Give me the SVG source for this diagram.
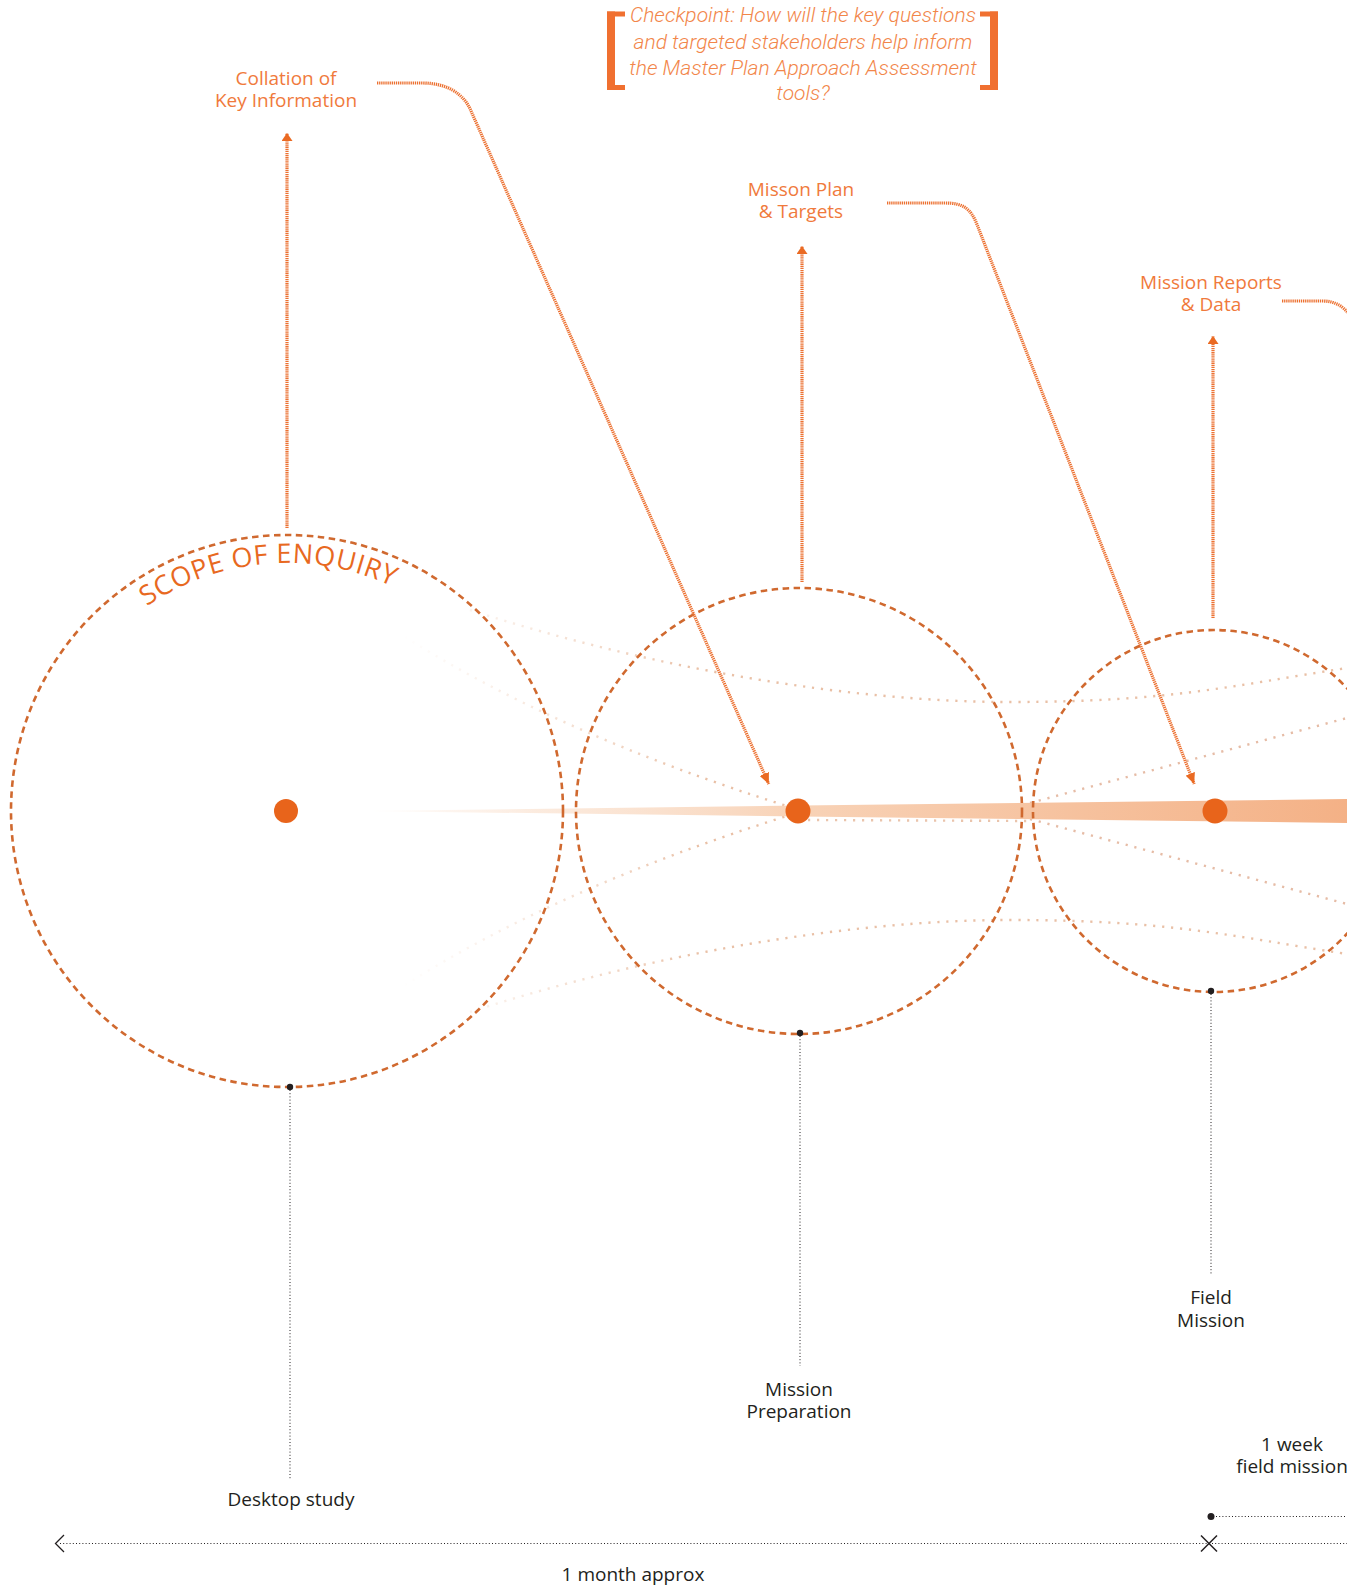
<svg xmlns="http://www.w3.org/2000/svg" width="1347" height="1589" viewBox="0 0 1347 1589">
  <style>
    .ring { fill: none; stroke: #D0692F; stroke-width: 2.6; stroke-dasharray: 6.5 4.5; }
    .hub { fill: #E8641B; }
    .olabel { font-family: "Open Sans", "Noto Sans", sans-serif; font-size: 19px; fill: #F07A3C; text-anchor: middle; }
    .blabel { font-family: "Open Sans", "Noto Sans", sans-serif; font-size: 19px; fill: #231F20; text-anchor: middle; }
    .check { font-family: Roboto, "Noto Sans", sans-serif; font-style: italic; font-weight: 300; font-size: 21px; fill: #F2864A; text-anchor: middle; }
    .hatch { fill: none; stroke: #EC7030; stroke-width: 3.2; stroke-dasharray: 1.3 0.8; }
    .faint { fill: none; stroke-width: 2.4; stroke-dasharray: 2.2 6.8; }
    .kdot { fill: none; stroke: #231F20; stroke-width: 1; stroke-dasharray: 1 2.2; }
    .bracket { fill: #F07030; }
  </style>
  <defs>
    <linearGradient id="bandGrad" gradientUnits="userSpaceOnUse" x1="360" y1="0" x2="1347" y2="0">
      <stop offset="0" stop-color="#FBE3D2" stop-opacity="0"/>
      <stop offset="0.18" stop-color="#FAE2D0" stop-opacity="0.7"/>
      <stop offset="0.45" stop-color="#F8D2B6"/>
      <stop offset="1" stop-color="#F4B186"/>
    </linearGradient>
    <linearGradient id="fadeGrad" gradientUnits="userSpaceOnUse" x1="400" y1="0" x2="700" y2="0">
      <stop offset="0" stop-color="#F0D2BE" stop-opacity="0"/>
      <stop offset="1" stop-color="#E9C0A6" stop-opacity="1"/>
    </linearGradient>
    <marker id="arrowDiag" viewBox="0 0 11 10" refX="11" refY="5" markerWidth="11" markerHeight="10" markerUnits="userSpaceOnUse" orient="auto">
      <path d="M0 0 L11 5 L0 10 Z" fill="#EA6A22"/>
    </marker>
    <marker id="arrowUp" viewBox="0 0 8 11" refX="8" refY="5.5" markerWidth="8" markerHeight="11" markerUnits="userSpaceOnUse" orient="auto">
      <path d="M0 0 L8 5.5 L0 11 Z" fill="#EA6A22"/>
    </marker>
    <path id="upperCurve" d="M 470 610 C 650 668 850 702 1010 702 S 1230 686 1347 668"/>
    <path id="lineA" d="M 405 637 Q 560 735 790 807"/>
    <path id="lineF" d="M 1030 803 L 1347 718"/>
    <path id="scopeArc" d="M 39.1 804.9 A 248 248 0 0 1 530.8 765.4"/>
  </defs>

  <!-- background faint guide lines -->
  <g id="guides">
    <use href="#upperCurve" class="faint" stroke="url(#fadeGrad)"/>
    <use href="#upperCurve" class="faint" stroke="url(#fadeGrad)" transform="matrix(1 0 0 -1 0 1622)"/>
    <use href="#lineA" class="faint" stroke="url(#fadeGrad)"/>
    <use href="#lineA" class="faint" stroke="url(#fadeGrad)" transform="matrix(1 0 0 -1 0 1622)"/>
    <use href="#lineF" class="faint" stroke="#E6BCA6"/>
    <use href="#lineF" class="faint" stroke="#E6BCA6" transform="matrix(1 0 0 -1 0 1622)"/>
    <path d="M 808 820 L 1030 821" class="faint" stroke="#EAC4AC"/>
  </g>

  <!-- timeline band -->
  <polygon id="band" points="360,811 800,805.5 1347,799 1347,823 800,816.5" fill="url(#bandGrad)"/>

  <!-- nodes -->
  <g id="node-desktop">
    <circle class="ring" cx="287" cy="811" r="276"/>
    <circle class="hub" cx="286" cy="811" r="12"/>
    <text font-family="'Open Sans', 'Noto Sans', sans-serif" font-size="27" fill="#E8691F" letter-spacing="0.6">
      <textPath href="#scopeArc" startOffset="50%" text-anchor="middle">SCOPE OF ENQUIRY</textPath>
    </text>
    <circle cx="290" cy="1087" r="3.2" fill="#231F20"/>
    <text class="blabel" x="291" y="1506">Desktop study</text>
  </g>

  <g id="node-preparation">
    <circle class="ring" cx="799" cy="811" r="223"/>
    <circle class="hub" cx="798" cy="811" r="12.5"/>
    <circle cx="800" cy="1033" r="3.2" fill="#231F20"/>
    <text class="blabel" x="799" y="1396">Mission</text>
    <text class="blabel" x="799" y="1418">Preparation</text>
  </g>

  <g id="node-field">
    <circle class="ring" cx="1214" cy="811" r="181"/>
    <circle class="hub" cx="1215" cy="811" r="12.5"/>
    <circle cx="1211" cy="991" r="3.2" fill="#231F20"/>
    <text class="blabel" x="1211" y="1304">Field</text>
    <text class="blabel" x="1211" y="1327">Mission</text>
  </g>

  <g id="node-collation">
    <text class="olabel" x="286" y="85">Collation of</text>
    <text class="olabel" x="286" y="107">Key Information</text>
  </g>

  <g id="node-missionplan">
    <text class="olabel" x="801" y="196">Misson Plan</text>
    <text class="olabel" x="801" y="218">&amp; Targets</text>
  </g>

  <g id="node-reports">
    <text class="olabel" x="1211" y="289">Mission Reports</text>
    <text class="olabel" x="1211" y="311">&amp; Data</text>
  </g>

  <g id="node-checkpoint">
    <rect class="bracket" x="607" y="11.5" width="8" height="78.5"/>
    <rect class="bracket" x="607" y="11.5" width="18" height="5"/>
    <rect class="bracket" x="607" y="85" width="18" height="5"/>
    <rect class="bracket" x="990" y="11.5" width="8" height="78.5"/>
    <rect class="bracket" x="980" y="11.5" width="18" height="5"/>
    <rect class="bracket" x="980" y="85" width="18" height="5"/>
    <text class="check" x="803" y="22">Checkpoint: How will the key questions</text>
    <text class="check" x="803" y="48.5">and targeted stakeholders help inform</text>
    <text class="check" x="803" y="74.5">the Master Plan Approach Assessment</text>
    <text class="check" x="803" y="100">tools?</text>
  </g>

  <g id="node-week">
    <text class="blabel" x="1292" y="1451">1 week</text>
    <text class="blabel" x="1292" y="1473">field mission</text>
  </g>

  <g id="node-month">
    <text class="blabel" x="633" y="1581">1 month approx</text>
  </g>

  <!-- connectors -->
  <g id="connectors">
    <path class="hatch" d="M 287 528 L 287 133" marker-end="url(#arrowUp)"/>
    <path class="hatch" d="M 802 582 L 802 246" marker-end="url(#arrowUp)"/>
    <path class="hatch" d="M 1213 618 L 1213 336" marker-end="url(#arrowUp)"/>
    <path class="hatch" d="M 377 83 H 422 C 447 83 463.3 93.5 470.6 110 L 768.8 784" marker-end="url(#arrowDiag)"/>
    <path class="hatch" d="M 887 203 H 945 C 963 203 970.7 208.2 977.2 225 L 1194.2 784" marker-end="url(#arrowDiag)"/>
    <path class="hatch" d="M 1282 301 H 1322 C 1334 301 1342 305 1350 315"/>

    <path class="kdot" d="M 290 1090 V 1480"/>
    <path class="kdot" d="M 800 1036 V 1366"/>
    <path class="kdot" d="M 1211 994 V 1274"/>

    <!-- timeline -->
    <path class="kdot" d="M 60 1543.5 H 1347"/>
    <path d="M 64 1535 L 55.5 1543.5 L 64 1552" fill="none" stroke="#231F20" stroke-width="1.3"/>
    <path d="M 1201 1535.5 L 1217 1551.5 M 1217 1535.5 L 1201 1551.5" stroke="#231F20" stroke-width="1.5"/>
    <circle cx="1211" cy="1516.5" r="3.5" fill="#231F20"/>
    <path class="kdot" d="M 1216 1516.5 H 1347"/>
  </g>
</svg>
